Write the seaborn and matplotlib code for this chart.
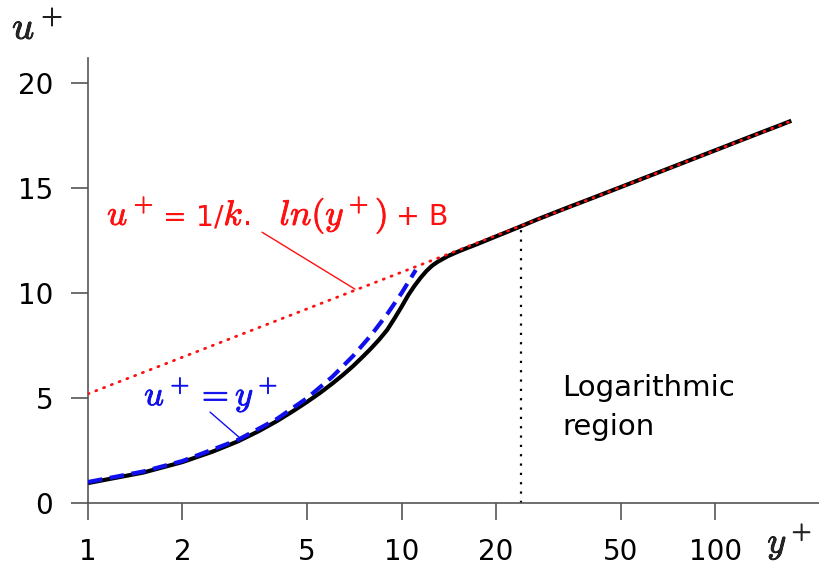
import matplotlib
matplotlib.use("Agg")
import matplotlib.pyplot as plt
import matplotlib.patheffects as pe
from matplotlib.offsetbox import TextArea, HPacker, AnnotationBbox
import seaborn as sns
import pandas as pd

# ---- data ----
wall_yplus = [1, 1.5, 2, 2.5, 3, 3.5, 4, 4.5, 5, 5.5, 6, 6.5, 7, 7.5, 8, 8.5, 9,
              9.5, 10, 10.5, 11, 11.5, 12, 12.5, 13, 14, 15, 16, 17, 18, 20, 22,
              24, 27, 30, 35, 40, 50, 60, 70, 85, 100, 120, 140, 160, 175]
wall_uplus = [0.95, 1.45, 1.95, 2.45, 2.93, 3.42, 3.9, 4.37, 4.82, 5.25, 5.68,
              6.1, 6.52, 6.95, 7.37, 7.8, 8.25, 8.8, 9.35, 9.9, 10.35, 10.73,
              11.05, 11.3, 11.48, 11.75, 11.95, 12.12, 12.27, 12.42, 12.7, 12.95,
              13.18, 13.5, 13.77, 14.16, 14.49, 15.05, 15.51, 15.9, 16.39, 16.8,
              17.26, 17.65, 17.98, 18.21]

visc_yplus = [1, 1.5, 2, 3, 4, 5, 6, 7, 8, 9, 10, 11.1]
visc_uplus = [1, 1.5, 2, 3, 4, 5, 6, 7, 8, 9, 10, 11.1]

log_yplus = [1, 175]
log_uplus = [5.2, 18.2]

log_region_start = 24
log_region_top = 13.15

x_ticks = [1, 2, 5, 10, 20, 50, 100]
x_ticklabels = ["1", "2", "5", "10", "20", "50", "100"]
y_ticks = [0, 5, 10, 15, 20]

RED = "#ff1010"
BLUE = "#1010ee"

sns.set_style("ticks")
plt.rcParams["font.family"] = ["DejaVu Sans"]
plt.rcParams["mathtext.fontset"] = "cm"

fig = plt.figure(figsize=(8.2, 5.65), dpi=100)
ax = fig.add_axes([88 / 820, 62 / 565, 1 - 88 / 820, (503 - 58) / 565])

df_wall = pd.DataFrame({"y": wall_yplus, "u": wall_uplus})
df_visc = pd.DataFrame({"y": visc_yplus, "u": visc_uplus})
df_log = pd.DataFrame({"y": log_yplus, "u": log_uplus})

sns.lineplot(data=df_wall, x="y", y="u", ax=ax, color="black", lw=3.0,
             solid_capstyle="butt", solid_joinstyle="round", zorder=3)
sns.lineplot(data=df_visc, x="y", y="u", ax=ax, color=BLUE, lw=3.0,
             linestyle=(0, (3.5, 1.8)), zorder=4)
sns.lineplot(data=df_log, x="y", y="u", ax=ax, color=RED, lw=2.0,
             linestyle=(0, (0.4, 2.6)), dash_capstyle="round", zorder=5)

ax.plot([log_region_start, log_region_start], [0, log_region_top], color="black",
        lw=1.6, linestyle=(0, (1, 3.2)), zorder=2)

ax.set_xscale("log")
ax.set_xlim(1, 216)
ax.set_ylim(0, 21.2)
ax.set_xticks(x_ticks)
ax.set_xticklabels(x_ticklabels)
ax.xaxis.set_minor_locator(matplotlib.ticker.NullLocator())
ax.set_yticks(y_ticks)
ax.set_xlabel("")
ax.set_ylabel("")

for s in ["top", "right"]:
    ax.spines[s].set_visible(False)
for s in ["left", "bottom"]:
    ax.spines[s].set_color("#555555")
    ax.spines[s].set_linewidth(1.2)
ax.tick_params(axis="both", direction="out", length=12, width=1.2,
               color="#555555", labelsize=20, pad=13, labelcolor="black")


def thick(color):
    return [pe.withStroke(linewidth=0.6, foreground=color)]


# red log-law label, built from pieces (math italic larger than sans text)
MATH_FS = 25.5
SANS_FS = 20.5
pieces = [
    (r"$u^+$", MATH_FS, True),
    (" = 1/", SANS_FS, False),
    (r"$k$", MATH_FS, True),
    (".   ", SANS_FS, False),
    (r"$ln(y^+)$", MATH_FS, True),
    (" + B", SANS_FS, False),
]
areas = []
for t, fs, is_math in pieces:
    props = dict(color=RED, fontsize=fs)
    if is_math:
        props["path_effects"] = thick(RED)
    areas.append(TextArea(t, textprops=props))
pack = HPacker(children=areas, align="baseline", pad=0, sep=0)
ab = AnnotationBbox(pack, (1.15, 13.7), xycoords="data", box_alignment=(0, 0.5),
                    frameon=False, pad=0, zorder=6)
ax.add_artist(ab)
ax.plot([3.59, 7.1], [12.9, 10.19], color=RED, lw=1.0)

ax.text(1.51, 5.15, r"$u^+ = y^+$", color=BLUE, fontsize=25,
        ha="left", va="center", path_effects=thick(BLUE))
ax.plot([2.45, 3.05], [4.33, 3.1], color=BLUE, lw=1.0)

ax.text(32.5, 4.55, "Logarithmic\nregion", color="black", fontsize=21,
        ha="left", va="center", linespacing=1.5)

fig.text(812 / 820, 1 - 542 / 565, r"$y^+$", fontsize=26, ha="right", va="center",
         path_effects=thick("black"))
fig.text(12 / 820, 1 - 28 / 565, r"$u^+$", fontsize=28, ha="left", va="center",
         path_effects=thick("black"))

fig.savefig("out.png", dpi=100)
